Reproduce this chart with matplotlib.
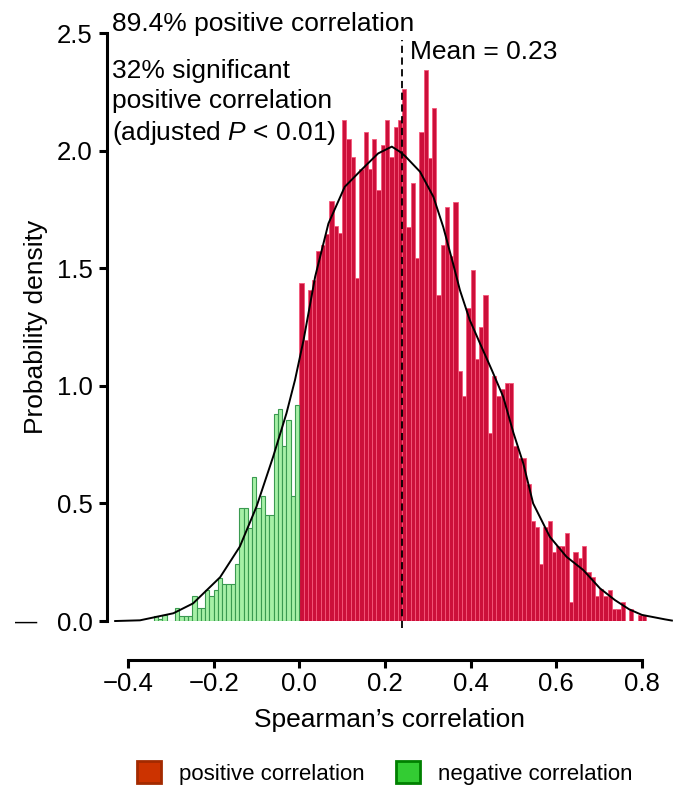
import matplotlib
matplotlib.use("Agg")
import matplotlib.pyplot as plt
import numpy as np
from matplotlib.patches import Patch

plt.rcParams['font.family'] = ['Liberation Sans', 'DejaVu Sans']
plt.rcParams['mathtext.fontset'] = 'custom'
plt.rcParams['mathtext.it'] = 'Liberation Sans:italic'
plt.rcParams['mathtext.rm'] = 'Liberation Sans'

# histogram, bin width 0.01
neg_left = np.round(np.arange(-0.34, 0.0, 0.01), 2)
neg_density = [0.023, 0.01, 0.024, 0.0, 0.0, 0.055, 0.023, 0.023, 0.023, 0.105,
               0.055, 0.055, 0.133, 0.105, 0.133, 0.184, 0.159, 0.159, 0.159, 0.241,
               0.48, 0.48, 0.397, 0.612, 0.48, 0.53, 0.452, 0.452, 0.879, 0.903,
               0.744, 0.853, 0.53, 0.92]

pos_left = np.round(np.arange(0.0, 0.805, 0.01), 2)
pos_density = [1.439, 1.195, 1.408, 1.45, 1.574, 1.597, 1.646, 1.784, 1.68, 1.65,
               2.13, 2.048, 1.971, 1.46, 1.922, 2.078, 1.922, 2.048, 1.833, 2.026,
               2.13, 1.971, 2.10, 2.13, 2.264, 1.676, 1.862, 1.543, 2.078, 2.342,
               1.97, 2.182, 1.385, 1.597, 1.759, 1.55, 1.782, 1.064, 0.955, 1.33,
               1.491, 1.115, 1.25, 1.385, 0.80, 1.04, 0.957, 0.985, 1.013, 1.013,
               0.744, 0.692, 0.692, 0.582, 0.427, 0.398, 0.242, 0.398, 0.427, 0.295,
               0.319, 0.319, 0.373, 0.08, 0.295, 0.266, 0.319, 0.21, 0.186, 0.105,
               0.135, 0.105, 0.133, 0.052, 0.052, 0.081, 0.0, 0.052, 0.0, 0.024,
               0.024]

# density curve
kde_x = [-0.43, -0.372, -0.294, -0.248, -0.185, -0.139, -0.10, -0.061, -0.03, -0.01,
         0.01, 0.037, 0.068, 0.106, 0.146, 0.184, 0.216, 0.235, 0.247, 0.282,
         0.313, 0.336, 0.359, 0.375, 0.398, 0.422, 0.45, 0.476, 0.50, 0.523,
         0.546, 0.585, 0.624, 0.663, 0.702, 0.737, 0.77, 0.80, 0.854, 0.87]
kde_y = [0.0, 0.003, 0.033, 0.075, 0.186, 0.316, 0.486, 0.699, 0.883, 1.025,
         1.195, 1.464, 1.69, 1.846, 1.92, 1.988, 2.017, 1.995, 1.977, 1.91,
         1.804, 1.676, 1.52, 1.407, 1.28, 1.18, 1.065, 0.954, 0.80, 0.67,
         0.50, 0.358, 0.273, 0.217, 0.139, 0.089, 0.05, 0.026, 0.007, 0.002]

mean_line = 0.24
x_ticks = [-0.4, -0.2, 0.0, 0.2, 0.4, 0.6, 0.8]
y_ticks = [0.0, 0.5, 1.0, 1.5, 2.0, 2.5]

fig = plt.figure(figsize=(6.75, 7.88), dpi=100)
ax = fig.add_axes([0.1579, 0.2119, 0.8375, 0.7462])

ax.bar(pos_left, pos_density, width=0.01, align='edge',
       facecolor='#cc0f3a', edgecolor='#f5587a', linewidth=0.6)
ax.bar(neg_left, neg_density, width=0.01, align='edge',
       facecolor='#a6f0a6', edgecolor='#3a9a50', linewidth=0.8)
ax.plot(kde_x, kde_y, color='black', lw=1.4, clip_on=False)
ax.plot([mean_line, mean_line], [-0.03, 2.47], color='black', lw=1.3,
        ls=(0, (4, 2.5)), clip_on=False)

ax.set_xlim(-0.45, 0.87)
ax.set_ylim(0, 2.5)

for s in ['top', 'right']:
    ax.spines[s].set_visible(False)
ax.spines['left'].set_bounds(0, 2.5)
ax.spines['bottom'].set_bounds(-0.4, 0.8)
ax.spines['bottom'].set_position(('outward', 28))
ax.spines['left'].set_linewidth(2.2)
ax.spines['bottom'].set_linewidth(2.2)
ax.tick_params(width=2.2, length=6, labelsize=18.5)
ax.tick_params(axis='x', pad=3)
ax.tick_params(axis='y', pad=4)

ax.set_xticks(x_ticks)
ax.set_xticklabels(['\u22120.4', '\u22120.2', '0.0', '0.2', '0.4', '0.6', '0.8'])
ax.set_yticks(y_ticks)
ax.set_yticklabels(['0.0', '0.5', '1.0', '1.5', '2.0', '2.5'])

ax.set_xlabel("Spearman\u2019s correlation", fontsize=19, labelpad=8)
ax.set_ylabel("Probability density", fontsize=19, labelpad=6)

ax.text(-0.437, 2.537, "89.4% positive correlation", fontsize=19,
        ha='left', va='center', clip_on=False)
ax.text(-0.437, 2.39, "32% significant\npositive correlation\n(adjusted $P$ < 0.01)",
        fontsize=19, ha='left', va='top', linespacing=1.3)
ax.text(0.258, 2.42, "Mean = 0.23", fontsize=19, ha='left', va='center')

fig.text(0.022, 1 - 622 / 788, "\u2014", fontsize=16, ha='left', va='center')

handles = [Patch(facecolor='#cc3300', edgecolor='#a32a00', linewidth=2),
           Patch(facecolor='#33cc33', edgecolor='#008000', linewidth=2)]
fig.legend(handles, ['positive correlation', 'negative correlation'],
           loc='center', bbox_to_anchor=(0.57, 0.019), ncol=2, frameon=False,
           fontsize=16, handlelength=1.1, handleheight=1.1,
           handletextpad=0.8, columnspacing=1.4)

fig.savefig('out.png', dpi=100)
